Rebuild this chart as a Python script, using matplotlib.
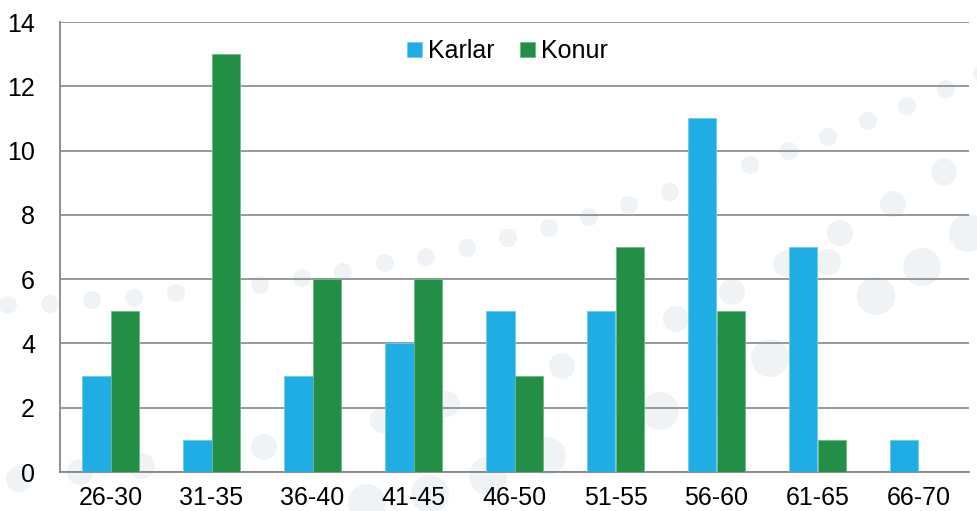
import matplotlib
matplotlib.use("Agg")
import matplotlib.pyplot as plt
import numpy as np
from matplotlib.patches import Circle

plt.rcParams['font.family'] = ['Liberation Sans', 'DejaVu Sans']

categories = ["26-30", "31-35", "36-40", "41-45", "46-50", "51-55", "56-60", "61-65", "66-70"]
karlar = [3, 1, 3, 4, 5, 5, 11, 7, 1]
konur = [5, 13, 6, 6, 3, 7, 5, 1, 0]
series_names = ["Karlar", "Konur"]
yticks = [0, 2, 4, 6, 8, 10, 12, 14]

c_blue = "#1FADE4"
c_green = "#238E45"
grid_c = "#878787"

# decorative background circles (pixel positions, radius)
deco = [(8,305,9),(50,304,9),(92,300,9),(134,298,9),(176,293,9),(260,285,9),(302,278,9),
        (343,272,9),(385,263,9),(426,257,9),(467,248,9),(508,238,9),(549,228,9),(589,217,9),
        (629,205,9),(670,192,9),(710,180,9),(750,165,9),(789,151,9),(828,137,9),(868,121,9),
        (907,106,9),(946,89,9),(982,74,9),
        (562,366,13),(676,319,13),(732,292,13),(447,404,13),(944,172,13),(893,204,13),
        (840,233,13),(786,264,13),(19,479,13),(80,472,13),(142,466,13),(264,447,13),(383,420,13),
        (660,411,19),(770,358,19),(547,456,19),(488,476,19),(430,494,19),(922,267,19),
        (968,233,19),(876,296,19),(367,503,19),(828,262,13)]

W, H = 977, 511
fig = plt.figure(figsize=(W/100, H/100), dpi=100)

bg = fig.add_axes([0, 0, 1, 1], zorder=0)
bg.set_xlim(0, W)
bg.set_ylim(H, 0)
bg.axis('off')
for (cx, cy, r) in deco:
    bg.add_patch(Circle((cx, cy), r, color="#F0F3F6", lw=0))

ax = fig.add_axes([60/W, 1-472/H, (969-60)/W, (472-22)/H], zorder=1)
ax.set_facecolor('none')

x = np.arange(len(categories))
bw = 0.287
ax.bar(x - bw/2, karlar, bw, color=c_blue, edgecolor="#6CCBEF", linewidth=0.6, label=series_names[0], zorder=3)
ax.bar(x + bw/2, konur, bw, color=c_green, edgecolor="#6FB88A", linewidth=0.6, label=series_names[1], zorder=3)

ax.set_xlim(-0.5, len(categories) - 0.5)
ax.set_ylim(0, 14)
ax.set_yticks(yticks)
ax.set_xticks(x)
ax.set_xticklabels(categories)
ax.tick_params(axis='both', length=0, labelsize=18, colors='black')
ax.tick_params(axis='y', pad=18)
ax.tick_params(axis='x', pad=10)

ax.grid(axis='y', color=grid_c, linewidth=1.2, zorder=1)
ax.set_axisbelow(True)
for s in ['top', 'right']:
    ax.spines[s].set_visible(False)
for s in ['left', 'bottom']:
    ax.spines[s].set_color(grid_c)
    ax.spines[s].set_linewidth(1.3)

leg = ax.legend(loc='center', bbox_to_anchor=(0.492, 0.935), ncol=2, frameon=False,
                fontsize=18, handlelength=0.6, handleheight=0.6, handletextpad=0.25,
                columnspacing=1.0)

fig.savefig("out.png", dpi=100)
